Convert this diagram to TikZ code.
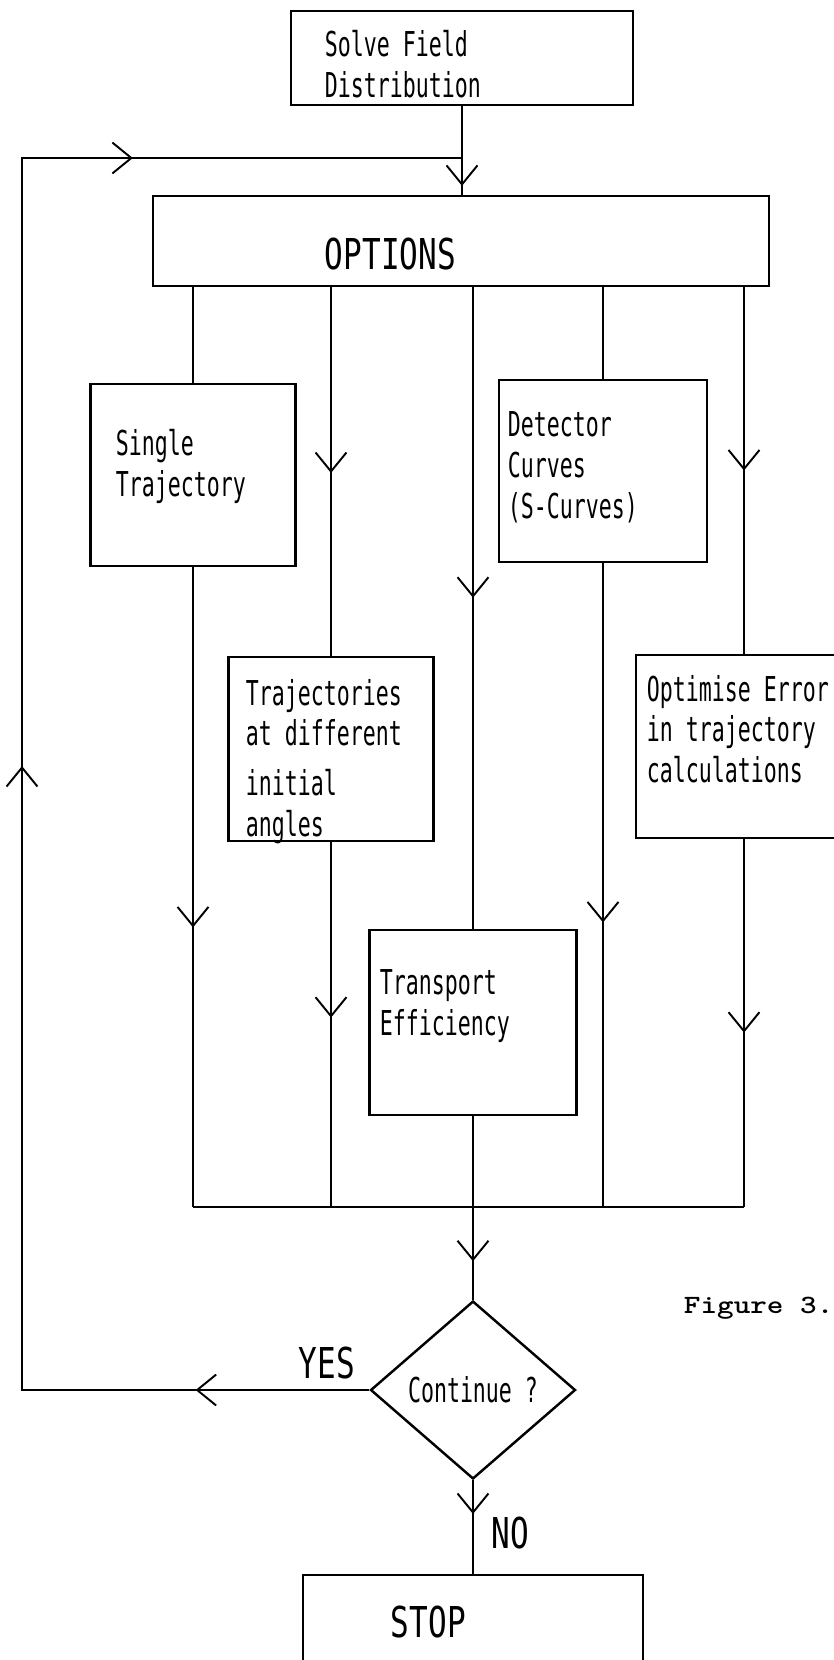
\documentclass[tikz,border=0pt]{standalone}
\usepackage{fontspec}
\usepackage{graphicx}
\usetikzlibrary{arrows.meta,shapes.geometric,decorations.markings}
\newfontfamily\plotfont[FakeStretch=0.63]{DejaVu Sans Mono}
\newfontfamily\plotbig[FakeStretch=0.73]{DejaVu Sans Mono}
\begin{document}
\begin{tikzpicture}[x=0.02cm,y=-0.02cm,line width=1.1pt,
  >={Straight Barb[length=10.8pt,width=17.6pt]},
  box/.style={draw,line width=1.4pt,inner sep=0pt},
  txt/.style={font=\plotfont\fontsize{19.5pt}{23.3pt}\selectfont,align=left,inner sep=0pt,anchor=north west},
  bigtxt/.style={font=\plotbig\fontsize{24.2pt}{28pt}\selectfont,inner sep=0pt},
  flow/.style={postaction={decorate},decoration={markings,mark=at position #1 with {\arrow{>}}}}]
\useasboundingbox (0,0) rectangle (834,1660);
\node[box,minimum width=6.84cm,minimum height=1.88cm] (solve) at (462,58) {};
\node[box,minimum width=12.32cm,minimum height=1.8cm] (opt) at (461,241) {};
\node[box,minimum width=4.1cm,minimum height=3.64cm] (single) at (193,475) {};
\node[box,minimum width=4.16cm,minimum height=3.64cm] (detect) at (603,471) {};
\node[box,minimum width=4.1cm,minimum height=3.68cm] (trajs) at (331,749) {};
\node[box,minimum width=4.32cm,minimum height=3.66cm] (optim) at (744,746.5) {};
\node[box,minimum width=4.14cm,minimum height=3.7cm] (transp) at (473,1022.5) {};
\node[box,diamond,minimum width=4.1cm,minimum height=3.56cm,font=\plotfont\fontsize{19.5pt}{23.3pt}\selectfont] (cont) at (473,1390) {Continue ?};
\node[box,minimum width=6.8cm,minimum height=2.4cm,anchor=north] (stop) at (473,1574) {};
\node[txt] (solve-t) at (324,29) {Solve Field\\Distribution};
\node[bigtxt,anchor=west] (opt-t) at (324,254) {OPTIONS};
\node[txt] (single-t) at (115,428) {Single\\Trajectory};
\node[txt] (detect-t) at (507,411) {Detector\\Curves\\(S-Curves)};
\node[txt] (trajs-t) at (245,678) {Trajectories\\at different\\[5pt]initial\\angles};
\node[txt] (optim-t) at (646,674) {Optimise Error\\in trajectory\\calculations};
\node[txt] (transp-t) at (379,969) {Transport\\Efficiency};
\node[bigtxt,anchor=west] (stop-t) at (390,1622) {STOP};
\node[bigtxt] (yes) at (327,1363) {YES};
\node[bigtxt] (no) at (510,1533) {NO};
\node[inner sep=0pt,anchor=base west,font=\ttfamily\bfseries\fontsize{15pt}{18pt}\selectfont] (fig) at (683,1313) {\scalebox{1.2}[1]{Figure 3.}};
\coordinate (busL) at (193,1207);
\coordinate (busR) at (744,1207);
\coordinate (loopT) at (22,158);
\coordinate (loopJ) at (solve.south |- loopT);
\draw[flow=0.9] (solve.south) -- (solve.south |- opt.north);
\draw (single.north |- opt.south) -- (single.north);
\draw[flow=0.504] (trajs.north |- opt.south) -- (trajs.north);
\draw[flow=0.484] (transp.north |- opt.south) -- (transp.north);
\draw (detect.north |- opt.south) -- (detect.north);
\draw[flow=0.5] (optim.north |- opt.south) -- (optim.north);
\draw[flow=0.563] (single.south) -- (busL);
\draw[flow=0.481] (trajs.south) -- (trajs.south |- busL);
\draw[flow=0.558] (detect.south) -- (detect.south |- busL);
\draw[flow=0.526] (optim.south) -- (busR);
\draw (busL) -- (busR);
\draw[flow=0.79] (transp.south) -- (cont.north);
\draw[flow=0.36] (cont.south) -- (stop.north);
\draw[postaction={decorate},decoration={markings,
    mark=at position 0.086 with {\arrow{>}},
    mark=at position 0.481 with {\arrow{>}},
    mark=at position 0.837 with {\arrow{>}}}]
  (cont.west) -- (cont.west -| loopT) -- (loopT) -- (loopJ);
\end{tikzpicture}
\end{document}
